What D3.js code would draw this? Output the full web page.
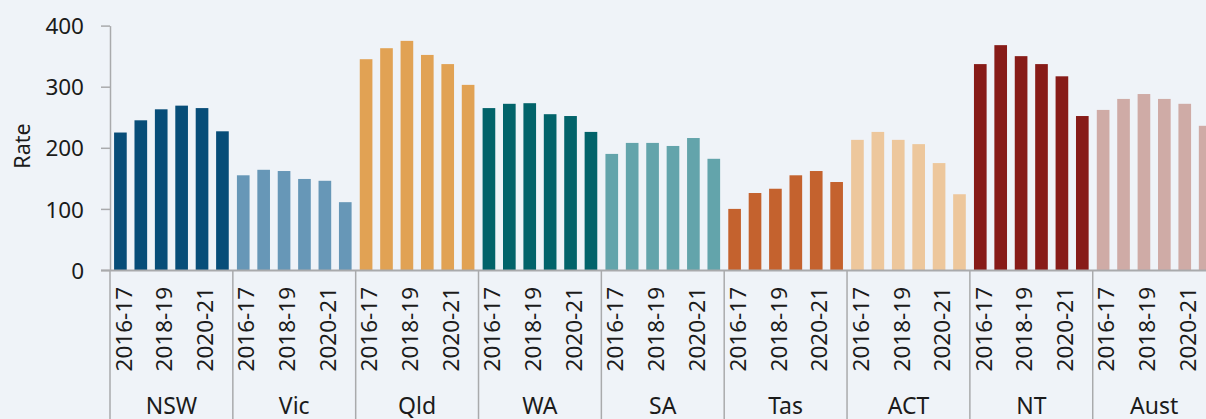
<!DOCTYPE html>
<html>
<head>
<meta charset="utf-8">
<script src="https://cdn.jsdelivr.net/npm/d3@7"></script>
<style>
  html, body { margin: 0; padding: 0; background: #eff3f8; overflow: hidden; }
  svg { display: block; }
</style>
</head>
<body>
<div id="chart"></div>
<script>
const states = ["NSW", "Vic", "Qld", "WA", "SA", "Tas", "ACT", "NT", "Aust"];
const years = ["2016-17", "2017-18", "2018-19", "2019-20", "2020-21", "2021-22"];
const labelledYears = ["2016-17", "2018-19", "2020-21"];
const yTicks = [0, 100, 200, 300, 400];

const stateColors = ["#074d78", "#6797b7", "#e1a254", "#02636a", "#63a4ab", "#c4622e", "#edc79c", "#871b18", "#cfaba6"];

const nswRates = [225, 245, 263, 269, 265, 227];
const vicRates = [155, 164, 162, 149, 146, 111];
const qldRates = [345, 363, 375, 352, 337, 303];
const waRates = [265, 272, 273, 255, 252, 226];
const saRates = [190, 208, 208, 203, 216, 182];
const tasRates = [100, 126, 133, 155, 162, 144];
const actRates = [213, 226, 213, 206, 175, 124];
const ntRates = [337, 368, 350, 337, 317, 252];
const austRates = [262, 280, 288, 280, 272, 236];

const rates = [nswRates, vicRates, qldRates, waRates, saRates, tasRates, actRates, ntRates, austRates];

const data = [];
states.forEach((s, i) => {
  years.forEach((yr, j) => {
    data.push({ state: s, year: yr, rate: rates[i][j], color: stateColors[i] });
  });
});

const width = 1206, height = 419;
const marginLeft = 110, groupW = 122.84;
const plotTop = 25.6, plotBottom = 270;
const font = "'Noto Sans', 'Open Sans', sans-serif";

const svg = d3.select("#chart").append("svg")
  .attr("width", width)
  .attr("height", height)
  .attr("font-family", font);

svg.append("rect").attr("width", width).attr("height", height).attr("fill", "#eff3f8");

const x0 = d3.scaleBand().domain(states)
  .range([marginLeft, marginLeft + groupW * states.length]);

const x1 = d3.scaleBand().domain(years)
  .range([0, x0.bandwidth()])
  .paddingInner(0.38)
  .paddingOuter(0.2);

const y = d3.scaleLinear().domain([0, 400]).range([plotBottom, plotTop]);

// bars
svg.append("g").selectAll("rect").data(data).join("rect")
  .attr("x", d => x0(d.state) + x1(d.year))
  .attr("y", d => y(d.rate))
  .attr("width", x1.bandwidth())
  .attr("height", d => y(0) - y(d.rate))
  .attr("fill", d => d.color);

const axisColor = "#a9aaac";
const textColor = "#1b1b1b";

// y axis
const yAxis = svg.append("g")
  .attr("transform", `translate(${marginLeft},0)`)
  .call(d3.axisLeft(y).tickValues(yTicks).tickSize(9).tickPadding(17).tickSizeOuter(0));
yAxis.attr("font-family", font);
yAxis.select(".domain").attr("stroke", axisColor).attr("stroke-width", 1.5);
yAxis.selectAll(".tick line").attr("stroke", axisColor).attr("stroke-width", 1.5);
yAxis.selectAll(".tick text").attr("fill", textColor).style("font-size", "22.5px")
  .attr("dy", "0.36em");

svg.append("text")
  .attr("transform", `translate(30,146) rotate(-90)`)
  .attr("text-anchor", "middle")
  .attr("fill", textColor)
  .style("font-size", "21.5px")
  .text("Rate");

// group separators
svg.append("g").selectAll("line").data(states.concat(["end"])).join("line")
  .attr("x1", (d, i) => marginLeft + i * x0.step())
  .attr("x2", (d, i) => marginLeft + i * x0.step())
  .attr("y1", plotBottom)
  .attr("y2", height)
  .attr("stroke", axisColor)
  .attr("stroke-width", 1.5);

// x axis line
svg.append("line")
  .attr("x1", marginLeft - 9).attr("x2", width)
  .attr("y1", plotBottom + 0.5).attr("y2", plotBottom + 0.5)
  .attr("stroke", axisColor)
  .attr("stroke-width", 2.2);

// year labels
const yearLabels = data.filter(d => labelledYears.includes(d.year));
svg.append("g").selectAll("text").data(yearLabels).join("text")
  .attr("transform", d => `translate(${x0(d.state) + x1(d.year) + x1.bandwidth() / 2},287) rotate(-90)`)
  .attr("text-anchor", "end")
  .attr("dy", "0.5em")
  .attr("fill", textColor)
  .style("font-size", "22.5px")
  .text(d => d.year);

// state labels
svg.append("g").selectAll("text").data(states).join("text")
  .attr("x", d => x0(d) + x0.bandwidth() / 2)
  .attr("y", 414)
  .attr("text-anchor", "middle")
  .attr("fill", textColor)
  .style("font-size", "23px")
  .text(d => d);
</script>
</body>
</html>
